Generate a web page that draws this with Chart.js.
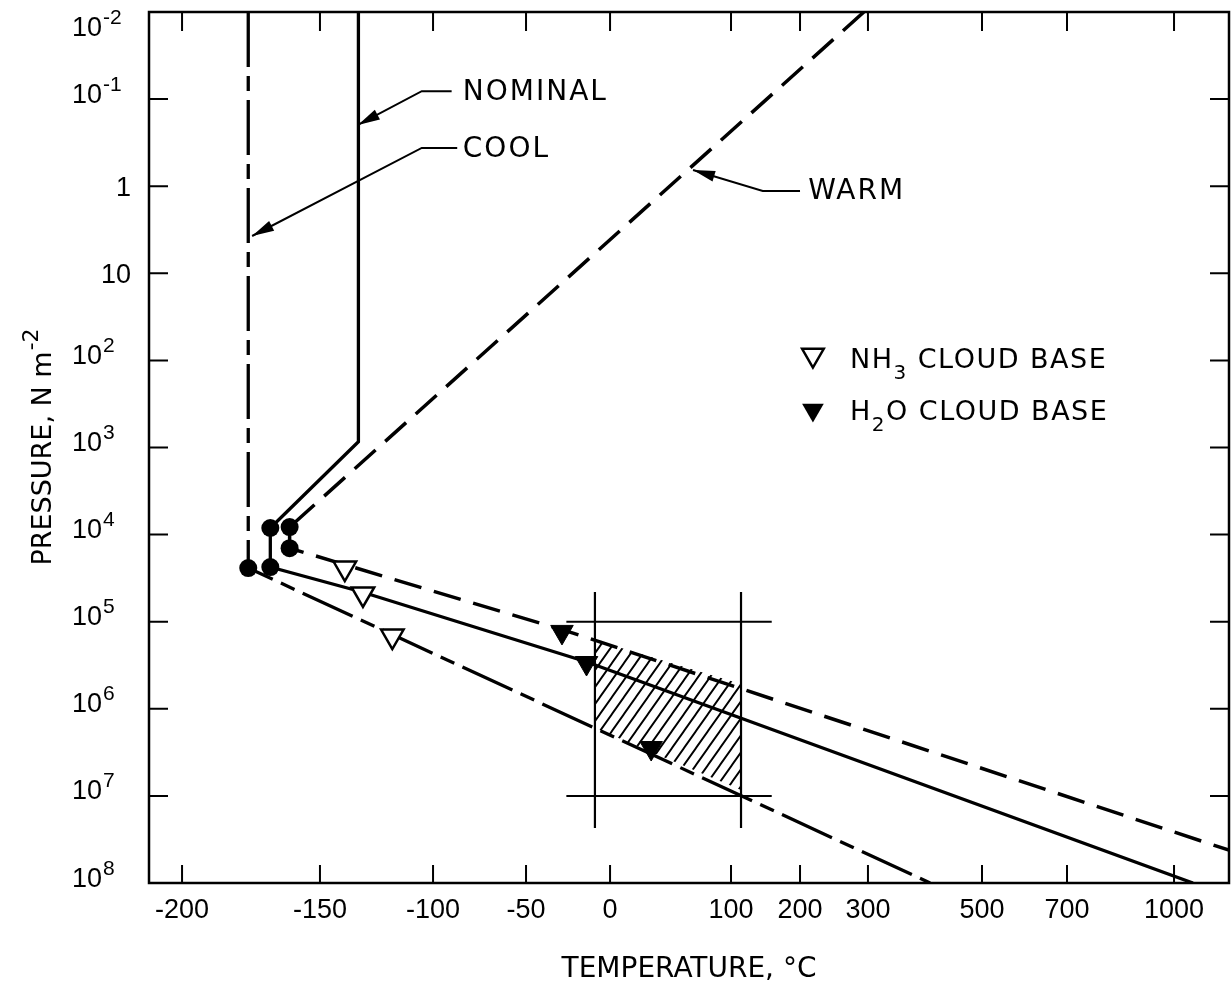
<!DOCTYPE html>
<html><head><meta charset="utf-8">
<script src="https://cdn.jsdelivr.net/npm/chart.js@4.4.1/dist/chart.umd.min.js"></script>
<style>
html,body{margin:0;padding:0;background:#fff;}
#wrap{width:1231px;height:993px;position:relative;}
</style></head><body>
<div id="wrap"><canvas id="c"></canvas></div>
<script>
// ---------------- data (temperature °C, pressure N m^-2) ----------------
const xTickValues = [-200, -150, -100, -50, 0, 100, 200, 300, 500, 700, 1000];
const yTickValues = [1e-2, 1e-1, 1, 10, 1e2, 1e3, 1e4, 1e5, 1e6, 1e7, 1e8];
const yTickBase   = ['10', '10', '1', '10', '10', '10', '10', '10', '10', '10', '10'];
const yTickExp    = ['-2', '-1', '', '', '2', '3', '4', '5', '6', '7', '8'];

const nominalT = [-133, -133, -168, -168, -131.4, -13.7, 1053];
const nominalP = [1e-2, 860, 8.4e3, 2.36e4, 4.56e4, 2.9e5, 1e8];

const warmT = [294, -161, -161, -22, 1154];
const warmP = [1e-2, 8.2e3, 1.43e4, 1.35e5, 4.2e7];

const coolT = [-176, -176, 409];
const coolP = [1e-2, 2.42e4, 1e8];

const dotT = [-176, -168, -168, -161, -161];
const dotP = [2.42e4, 2.36e4, 8.4e3, 8.2e3, 1.43e4];

const nh3T = [-139, -131, -118];
const nh3P = [2.42e4, 4.8e4, 1.46e5];

const h2oT = [-28.6, -14, 34];
const h2oP = [1.31e5, 2.98e5, 2.82e6];

const hatchT = [-9, 114.5, 114.5, -9];
const hatchP = [1.62e5, 5.19e5, 8.55e6, 1.66e6];

const boxT = [-9, 114.5];          // vertical bars
const boxVP = [4.56e4, 2.34e7];    // their pressure extent
const boxP = [1e5, 1e7];           // horizontal bars
const boxHT = [-26, 159];          // their temperature extent

const labelNames = ['NOMINAL', 'COOL', 'WARM'];
const labelT = [-84, -84, 212];
const labelP = [0.084, 0.38, 1.17];
const leaderPaths = [
  [[-90, 0.081], [-105, 0.081], [-133.2, 0.198]],
  [[-87, 0.364], [-105, 0.364], [-174.6, 3.73]],
  [[200, 1.135], [146, 1.135], [68.6, 0.652]]
];
const legendT = 219;
const legendP = [86.7, 370];

// ---------------- axis geometry (non-uniform temperature axis) ----------------
const AXIS_T = [-212, -200, -150, -100, -50, 0, 100, 200, 300, 500, 700, 1000, 1154];
const AXIS_F = [0, 0.0306, 0.1583, 0.2630, 0.3491, 0.4269, 0.5389, 0.6028, 0.6657, 0.7713, 0.8500, 0.9491, 1];

function interp(v, xs, ys) {
  const n = xs.length - 1;
  if (v <= xs[0]) return ys[0] + (v - xs[0]) * (ys[1] - ys[0]) / (xs[1] - xs[0]);
  for (let i = 1; i <= n; i++) {
    if (v <= xs[i]) return ys[i - 1] + (v - xs[i - 1]) * (ys[i] - ys[i - 1]) / (xs[i] - xs[i - 1]);
  }
  return ys[n] + (v - xs[n]) * (ys[n] - ys[n - 1]) / (xs[n] - xs[n - 1]);
}

class WarpScale extends Chart.LinearScale {
  getPixelForValue(value) { return this.getPixelForDecimal(interp(value, AXIS_T, AXIS_F)); }
  getValueForPixel(pixel) { return interp(this.getDecimalForPixel(pixel), AXIS_F, AXIS_T); }
}
WarpScale.id = 'warp';
WarpScale.defaults = Chart.LinearScale.defaults;
Chart.register(WarpScale);

// ---------------- helpers ----------------
const pts = (T, P) => T.map((t, i) => ({x: t, y: P[i]}));
const FNUM = "'Liberation Sans', Arial, sans-serif";
const FTXT = "'DejaVu Sans', 'Liberation Sans', sans-serif";

function makeHatch() {
  const t = document.createElement('canvas');
  t.width = 12; t.height = 17;
  const g = t.getContext('2d');
  g.strokeStyle = '#000'; g.lineWidth = 1.9;
  g.beginPath();
  for (const o of [-12, 0, 12]) { g.moveTo(o - 12, 34); g.lineTo(o + 24, -17); }
  g.stroke();
  return g.createPattern(t, 'repeat');
}
const hatch = makeHatch();

function triangle(ctx, x, y, r, filled) {
  ctx.beginPath();
  for (let k = 0; k < 3; k++) {
    const a = Math.PI + k * 2 * Math.PI / 3;
    const X = x + Math.sin(a) * r, Y = y - Math.cos(a) * r;
    k ? ctx.lineTo(X, Y) : ctx.moveTo(X, Y);
  }
  ctx.closePath();
  if (filled) { ctx.fillStyle = '#000'; ctx.fill(); }
  else { ctx.fillStyle = '#fff'; ctx.fill(); ctx.lineWidth = 2.5; ctx.strokeStyle = '#000'; ctx.stroke(); }
}

function richText(ctx, parts, x, y) {
  let cx = x;
  for (const [s, size, dy] of parts) {
    ctx.font = size + 'px ' + FTXT;
    ctx.fillText(s, cx, y + dy);
    cx += ctx.measureText(s).width;
  }
}

const decor = {
  id: 'decor',
  afterDraw(chart) {
    const {ctx, chartArea: a, scales: {x, y}} = chart;
    const px = t => x.getPixelForValue(t), py = p => y.getPixelForValue(p);
    ctx.save();
    ctx.strokeStyle = '#000'; ctx.fillStyle = '#000';
    // frame
    ctx.lineWidth = 2.5;
    ctx.strokeRect(a.left, a.top, a.right - a.left, a.bottom - a.top);
    // inward tick marks
    ctx.lineWidth = 2;
    ctx.beginPath();
    x.ticks.forEach(t => {
      const X = px(t.value);
      ctx.moveTo(X, a.bottom); ctx.lineTo(X, a.bottom - 18);
      ctx.moveTo(X, a.top); ctx.lineTo(X, a.top + 19);
    });
    y.ticks.forEach(t => {
      if (t.value <= yTickValues[0] || t.value >= yTickValues[yTickValues.length - 1]) return;
      const Y = py(t.value);
      ctx.moveTo(a.left, Y); ctx.lineTo(a.left + 19, Y);
      ctx.moveTo(a.right, Y); ctx.lineTo(a.right - 19, Y);
    });
    ctx.stroke();
    // y tick labels with superscripts
    ctx.textBaseline = 'alphabetic';
    yTickValues.forEach((v, i) => {
      const Y = py(v);
      if (yTickExp[i]) {
        const base = Math.max(Y + 3.5, 35.5);
        ctx.font = '27px ' + FNUM; ctx.textAlign = 'left';
        ctx.fillText(yTickBase[i], 72, base);
        const w = ctx.measureText(yTickBase[i]).width;
        ctx.font = '21px ' + FNUM;
        ctx.fillText(yTickExp[i], 72 + w + 1, base - 12);
      } else {
        ctx.font = '27px ' + FNUM; ctx.textAlign = 'right';
        ctx.fillText(yTickBase[i], 131, Y + 9.5);
      }
    });
    // y title (rotated)
    ctx.save();
    ctx.translate(51, (a.top + a.bottom) / 2);
    ctx.rotate(-Math.PI / 2);
    ctx.textAlign = 'left';
    ctx.font = '27px ' + FTXT;
    const t1 = 'PRESSURE, N m';
    const w1 = ctx.measureText(t1).width;
    ctx.font = '22px ' + FTXT;
    const w2 = ctx.measureText('-2').width;
    const sx = -(w1 + w2) / 2;
    ctx.font = '27px ' + FTXT;
    ctx.fillText(t1, sx, 0);
    ctx.font = '22px ' + FTXT;
    ctx.fillText('-2', sx + w1 + 1, -13);
    ctx.restore();
    // curve labels + leader arrows
    try { ctx.letterSpacing = '2px'; } catch (e) {}
    ctx.textAlign = 'left'; ctx.textBaseline = 'middle';
    ctx.font = '28px ' + FTXT;
    labelNames.forEach((s, i) => ctx.fillText(s, px(labelT[i]), py(labelP[i])));
    ctx.lineWidth = 2;
    leaderPaths.forEach(path => {
      const P = path.map(([t, p]) => [px(t), py(p)]);
      ctx.beginPath();
      P.forEach(([X, Y], k) => k ? ctx.lineTo(X, Y) : ctx.moveTo(X, Y));
      ctx.stroke();
      const [tx, ty] = P[P.length - 1], [bx, by] = P[P.length - 2];
      const L = Math.hypot(tx - bx, ty - by), ux = (tx - bx) / L, uy = (ty - by) / L;
      const len = 22, hw = 5.5;
      ctx.beginPath();
      ctx.moveTo(tx, ty);
      ctx.lineTo(tx - ux * len - uy * hw, ty - uy * len + ux * hw);
      ctx.lineTo(tx - ux * len + uy * hw, ty - uy * len - ux * hw);
      ctx.closePath(); ctx.fill();
    });
    // legend
    try { ctx.letterSpacing = '1.5px'; } catch (e) {}
    const LX = px(legendT);
    triangle(ctx, LX, py(legendP[0]), 12.5, false);
    triangle(ctx, LX, py(legendP[1]), 12.5, true);
    ctx.fillStyle = '#000'; ctx.textBaseline = 'alphabetic';
    richText(ctx, [['NH', 27, 0], ['3', 20, 11], [' CLOUD BASE', 27, 0]], LX + 37, py(legendP[0]) + 13);
    richText(ctx, [['H', 27, 0], ['2', 20, 11], ['O CLOUD BASE', 27, 0]], LX + 37, py(legendP[1]) + 10);
    ctx.restore();
  }
};

const lineDS = (label, T, P, extra) => Object.assign({
  type: 'line', label, data: pts(T, P), borderColor: '#000', borderWidth: 3.3,
  pointRadius: 0, fill: false, tension: 0, order: 1
}, extra || {});

new Chart(document.getElementById('c'), {
  type: 'line',
  data: {
    datasets: [
      {type: 'scatter', label: 'NH3 cloud base', data: pts(nh3T, nh3P), pointStyle: 'triangle',
       pointRotation: 180, pointRadius: 13, pointBackgroundColor: '#fff', pointBorderColor: '#000',
       pointBorderWidth: 2.5, order: 0},
      {type: 'scatter', label: 'H2O cloud base', data: pts(h2oT, h2oP), pointStyle: 'triangle',
       pointRotation: 180, pointRadius: 13, pointBackgroundColor: '#000', pointBorderColor: '#000',
       pointBorderWidth: 1, order: 0},
      {type: 'scatter', label: 'points', data: pts(dotT, dotP), pointStyle: 'circle',
       pointRadius: 9, pointBackgroundColor: '#000', pointBorderWidth: 0, order: 0},
      lineDS('Nominal', nominalT, nominalP),
      lineDS('Warm', warmT, warmP, {borderDash: [28, 13], borderWidth: 3.5}),
      lineDS('Cool', coolT, coolP, {borderDash: [55, 9, 15, 9]}),
      lineDS('box left', [boxT[0], boxT[0]], boxVP, {borderWidth: 2.2}),
      lineDS('box right', [boxT[1], boxT[1]], boxVP, {borderWidth: 2.2}),
      lineDS('box top', boxHT, [boxP[0], boxP[0]], {borderWidth: 2}),
      lineDS('box bottom', boxHT, [boxP[1], boxP[1]], {borderWidth: 2}),
      lineDS('range', hatchT, hatchP, {fill: 'shape', backgroundColor: hatch, borderWidth: 0, order: 2})
    ]
  },
  options: {
    responsive: true, maintainAspectRatio: false, animation: false,
    layout: {autoPadding: false, padding: {top: 12, right: 2, left: 0, bottom: 0}},
    plugins: {legend: {display: false}, tooltip: {enabled: false}},
    scales: {
      x: {
        type: 'warp', position: 'bottom', min: AXIS_T[0], max: AXIS_T[AXIS_T.length - 1],
        afterBuildTicks: s => { s.ticks = xTickValues.map(v => ({value: v})); },
        afterFit: s => { s.height = 110; s.paddingLeft = 0; s.paddingRight = 0; },
        grid: {display: false, drawTicks: false}, border: {display: false},
        ticks: {autoSkip: false, maxRotation: 0, padding: 11, color: '#000',
                font: {family: FNUM, size: 27}, callback: v => String(v)},
        title: {display: true, text: 'TEMPERATURE, °C', color: '#000',
                font: {family: FTXT, size: 28}, padding: {top: 0, bottom: 6}}
      },
      y: {
        type: 'logarithmic', reverse: true, min: yTickValues[0], max: yTickValues[yTickValues.length - 1],
        afterBuildTicks: s => { s.ticks = yTickValues.map(v => ({value: v})); },
        afterFit: s => { s.width = 149; s.paddingTop = 0; s.paddingBottom = 0; },
        grid: {display: false, drawTicks: false}, border: {display: false},
        ticks: {display: false}
      }
    }
  },
  plugins: [decor]
});
</script>
</body></html>
